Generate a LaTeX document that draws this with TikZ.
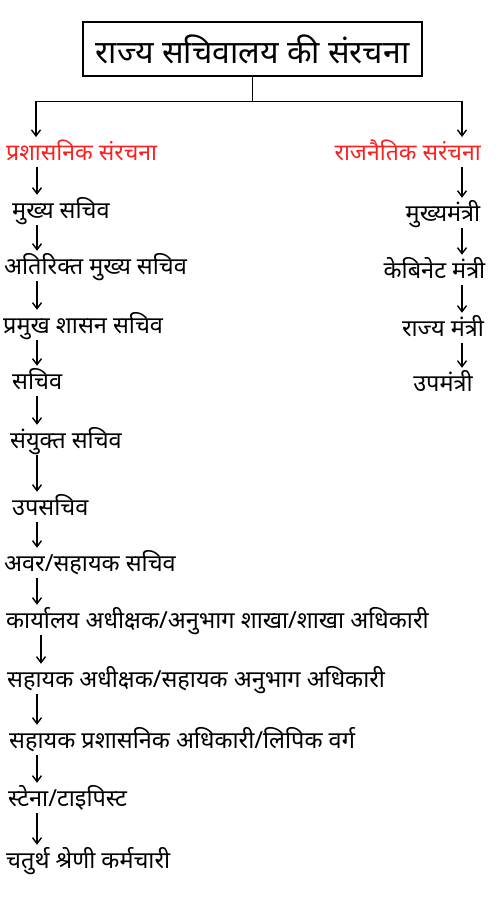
\documentclass[tikz,border=0pt]{standalone}
\usepackage{fontspec}
\newfontfamily\hindi[Script=Devanagari]{Noto Sans}
\usetikzlibrary{arrows.meta, positioning}
\definecolor{headred}{RGB}{250,32,32}

\tikzset{
    post/.style={anchor=west, inner xsep=0pt, inner ysep=3pt, text height=20pt, text depth=4pt, font=\hindi\fontsize{23.5}{26}\selectfont},
    head/.style={post, text=headred, font=\hindi\bfseries\fontsize{23}{26}\selectfont},
    conn/.style={line width=1.6pt},
    arr/.style={line width=1.5pt, -{Straight Barb[length=6pt, width=9pt, line width=1.4pt]}},
}

\begin{document}
\begin{tikzpicture}[x=1pt, y=-1pt]
            \useasboundingbox (0,0) rectangle (500,900);
            % title
            \node[draw, line width=2.6pt, minimum width=339pt, minimum height=54pt, inner sep=0pt,
                  font=\hindi\fontsize{32}{36}\selectfont] (title) at (252.5,49) {राज्य सचिवालय की संरचना};
            \coordinate (lt) at (36,137);
            \coordinate (rt) at (462,137);
            \draw[conn] (title.south) -- ++(0,24) coordinate (split);
            \draw[arr] (split) -| (lt);
            \draw[arr] (split) -| (rt);
            % headings
            \node[head] (admin) at (6,152) {प्रशासनिक संरचना};
            \node[head, anchor=east] (polit) at (481,152) {राजनैतिक सरंचना};
            % left column
            \coordinate (lx) at (37,0);
            \node[post] (cs) at (12,210) {मुख्य सचिव};
            \node[post] (acs) at (4,266) {अतिरिक्त मुख्य सचिव};
            \node[post] (pss) at (3,325) {प्रमुख शासन सचिव};
            \node[post] (sec) at (12,381) {सचिव};
            \node[post] (jsec) at (10,440) {संयुक्त सचिव};
            \node[post] (dsec) at (12,507) {उपसचिव};
            \node[post] (usec) at (4,563) {अवर/सहायक सचिव};
            \node[post] (supt) at (6,620) {कार्यालय अधीक्षक/अनुभाग शाखा/शाखा अधिकारी};
            \node[post] (asupt) at (7,679) {सहायक अधीक्षक/सहायक अनुभाग अधिकारी};
            \node[post] (aao) at (9,740) {सहायक प्रशासनिक अधिकारी/लिपिक वर्ग};
            \node[post] (steno) at (8,798) {स्टेना/टाइपिस्ट};
            \node[post] (fourth) at (6,860) {चतुर्थ श्रेणी कर्मचारी};
            \draw[arr] (admin.south -| lx) -- (cs.north -| lx);
            \draw[arr] (cs.south -| lx) -- (acs.north -| lx);
            \draw[arr] (acs.south -| lx) -- (pss.north -| lx);
            \draw[arr] (pss.south -| lx) -- (sec.north -| lx);
            \draw[arr] (sec.south -| lx) -- (jsec.north -| lx);
            \draw[arr] (jsec.south -| lx) -- (dsec.north -| lx);
            \draw[arr] (dsec.south -| lx) -- (usec.north -| lx);
            \draw[arr] (usec.south -| lx) -- (supt.north -| lx);
            \draw[arr] ([xshift=4pt]supt.south -| lx) -- ([xshift=4pt]asupt.north -| lx);
            \draw[arr] (asupt.south -| lx) -- (aao.north -| lx);
            \draw[arr] (aao.south -| lx) -- (steno.north -| lx);
            \draw[arr] (steno.south -| lx) -- (fourth.north -| lx);
            % right column
            \coordinate (rx) at (462,0);
            \node[post, anchor=center] (cm) at (443,213) {मुख्यमंत्री};
            \node[post, anchor=center] (cab) at (434.5,270) {केबिनेट मंत्री};
            \node[post, anchor=center] (mos) at (443,328) {राज्य मंत्री};
            \node[post, anchor=center] (dm) at (443,383) {उपमंत्री};
            \draw[arr] (polit.south -| rx) -- (cm.north -| rx);
            \draw[arr] (cm.south -| rx) -- (cab.north -| rx);
            \draw[arr] (cab.south -| rx) -- (mos.north -| rx);
            \draw[arr] (mos.south -| rx) -- (dm.north -| rx);
\end{tikzpicture}
\end{document}
